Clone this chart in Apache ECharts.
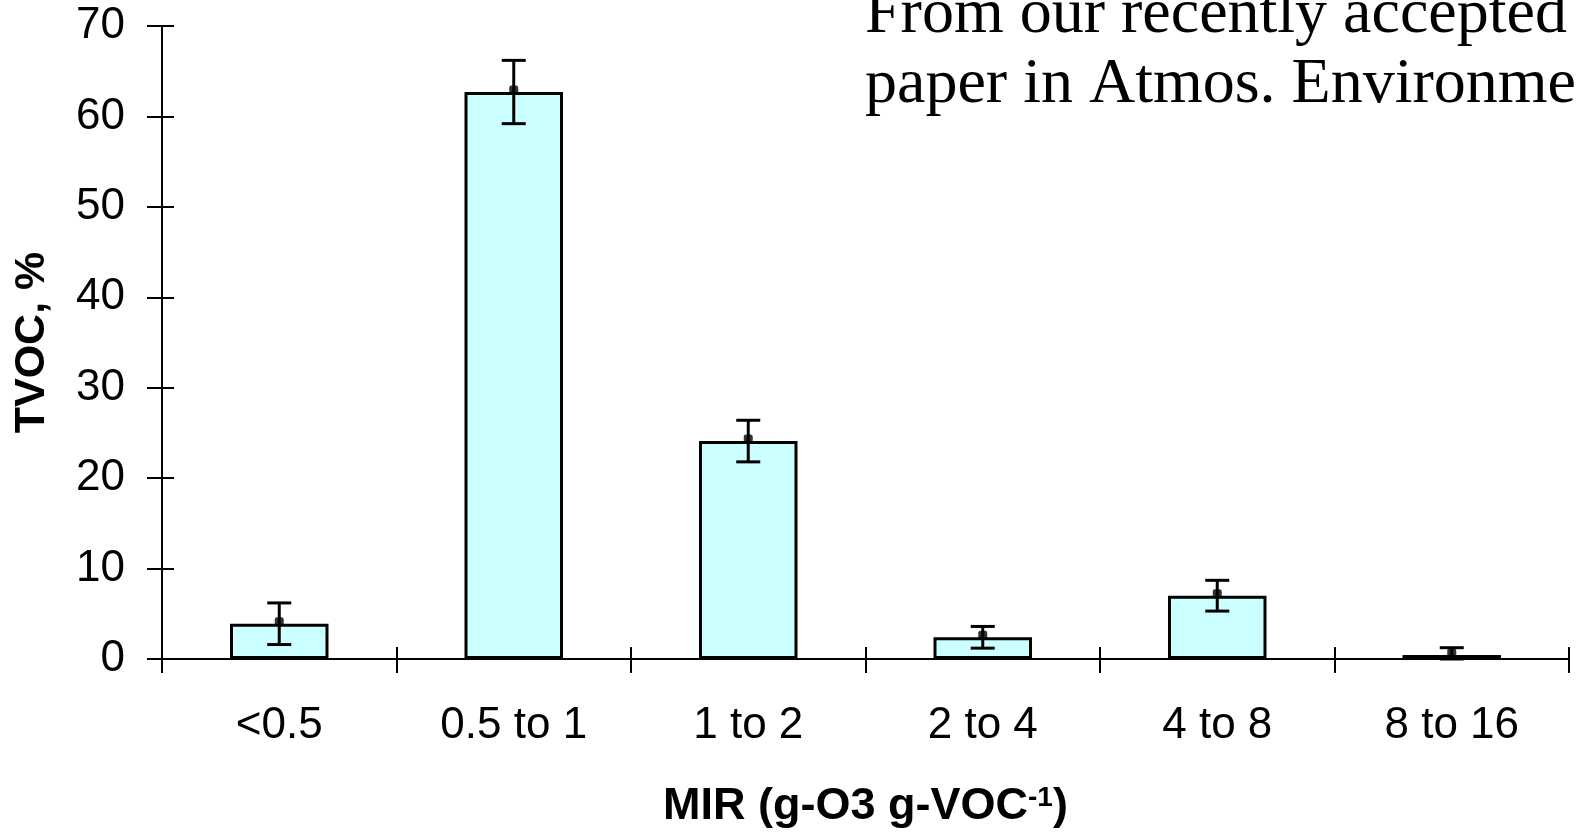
<!DOCTYPE html>
<html>
<head>
<meta charset="utf-8">
<script src="https://cdn.jsdelivr.net/npm/echarts@6/dist/echarts.min.js"></script>
<style>
html,body{margin:0;padding:0;background:#fff;}
#chart{width:1576px;height:835px;}
</style>
</head>
<body>
<div id="chart"></div>
<script>
const categories = ['<0.5', '0.5 to 1', '1 to 2', '2 to 4', '4 to 8', '8 to 16'];
const values = [3.9, 62.7, 24.1, 2.4, 7.0, 0.45];
const errors = [2.3, 3.5, 2.3, 1.2, 1.7, 0.8];
const yTicks = { min: 0, max: 70, interval: 10 };
const titleLines = ['From our recently accepted', 'paper in Atmos. Environme'];
const xName = 'MIR (g-O3 g-VOC{sup|-1})';
const yName = 'TVOC, %';

const chart = echarts.init(document.getElementById('chart'), null, { renderer: 'canvas' });
const sans = 'Liberation Sans, Arial, sans-serif';
const errData = categories.map((c, i) => [i, Math.max(0, values[i] - errors[i]), values[i] + errors[i]]);

const option = {
  backgroundColor: '#ffffff',
  animation: false,
  grid: { left: 162, right: 7, top: 26, bottom: 176 },
  xAxis: [{
    type: 'category',
    data: categories,
    boundaryGap: true,
    axisLine: { lineStyle: { color: '#000', width: 2 } },
    axisTick: { show: true, inside: false, length: 14, lineStyle: { color: '#000', width: 2 }, alignWithLabel: false },
    axisLabel: { color: '#000', fontFamily: sans, fontSize: 44, margin: 45 },
    name: xName,
    nameLocation: 'middle',
    nameGap: 125,
    nameTextStyle: {
      color: '#000', fontFamily: sans, fontSize: 45, fontWeight: 'bold', lineHeight: 45,
      rich: { sup: { fontSize: 28, fontWeight: 'bold', fontFamily: sans, color: '#000', verticalAlign: 'top', lineHeight: 45, padding: [0, 0, 18, 0] } }
    },
    splitLine: { show: false }
  }, {
    type: 'category',
    data: categories,
    position: 'bottom',
    boundaryGap: true,
    axisLine: { show: false },
    axisTick: { show: true, inside: true, length: 12, lineStyle: { color: '#000', width: 2 } },
    axisLabel: { show: false },
    splitLine: { show: false }
  }],
  yAxis: [{
    type: 'value',
    min: yTicks.min, max: yTicks.max, interval: yTicks.interval,
    axisLine: { show: true, lineStyle: { color: '#000', width: 2 } },
    axisTick: { show: true, inside: false, length: 15, lineStyle: { color: '#000', width: 2 } },
    axisLabel: { color: '#000', fontFamily: sans, fontSize: 44, margin: 37 },
    splitLine: { show: false },
    name: yName,
    nameLocation: 'middle',
    nameGap: 108,
    nameRotate: 90,
    nameTextStyle: { color: '#000', fontFamily: sans, fontSize: 43, fontWeight: 'bold' }
  }, {
    type: 'value',
    position: 'left',
    min: yTicks.min, max: yTicks.max, interval: yTicks.interval,
    axisLine: { show: false },
    axisTick: { show: true, inside: true, length: 12, lineStyle: { color: '#000', width: 2 } },
    axisLabel: { show: false },
    splitLine: { show: false }
  }],
  series: [{
    type: 'bar',
    data: values,
    barWidth: '42%',
    itemStyle: { color: '#CCFFFF', borderColor: '#000', borderWidth: 3 },
    z: 2
  }, {
    type: 'custom',
    data: errData,
    z: 5,
    renderItem: function (params, api) {
      const x = api.value(0);
      const pLo = api.coord([x, api.value(1)]);
      const pHi = api.coord([x, api.value(2)]);
      const hw = 12;
      const st = { stroke: '#000', lineWidth: 3 };
      return {
        type: 'group',
        children: [
          { type: 'line', shape: { x1: pHi[0], y1: pHi[1], x2: pLo[0], y2: pLo[1] }, style: st },
          { type: 'line', shape: { x1: pHi[0] - hw, y1: pHi[1], x2: pHi[0] + hw, y2: pHi[1] }, style: st },
          { type: 'line', shape: { x1: pLo[0] - hw, y1: pLo[1], x2: pLo[0] + hw, y2: pLo[1] }, style: st }
        ]
      };
    }
  }, {
    type: 'scatter',
    data: values,
    symbol: 'roundRect',
    symbolSize: 9,
    symbolOffset: [0, -2],
    itemStyle: { color: '#000' },
    z: 6
  }],
  graphic: [{
    type: 'text', left: 865, top: -17,
    style: { text: titleLines[0], font: '64px "Liberation Serif", "Times New Roman", serif', fill: '#000' }
  }, {
    type: 'text', left: 865, top: 53,
    style: { text: titleLines[1], font: '64px "Liberation Serif", "Times New Roman", serif', fill: '#000' }
  }]
};
chart.setOption(option);
</script>
</body>
</html>
